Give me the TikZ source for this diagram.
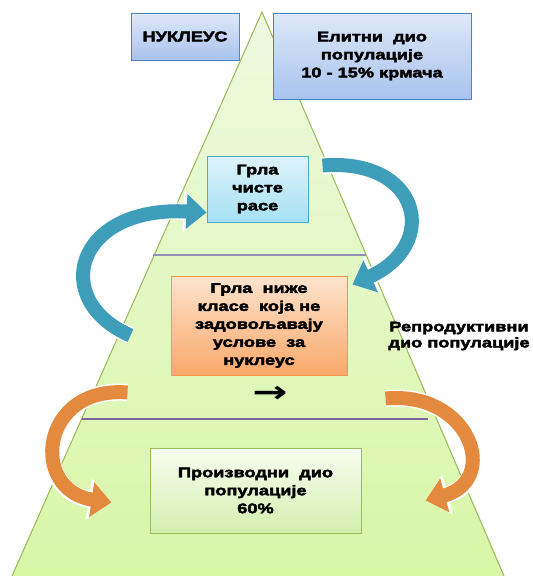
\documentclass[tikz,border=0pt]{standalone}
\usepackage{amsmath}
\usepackage{fontspec}
\newfontfamily\boxfont[FakeStretch=1.3,FakeBold=3]{Liberation Sans Bold}
\newfontfamily\arrowfont[FakeStretch=1.4]{DejaVu Sans Bold}
\usepackage{tikz}
\usetikzlibrary{arrows.meta,positioning}
\usepackage{xcolor}
\definecolor{pyrline}{HTML}{9BBB59}
\definecolor{pyrtop}{HTML}{EEF9E0}
\definecolor{pyrbot}{HTML}{D8F6A6}
\definecolor{nuclline}{HTML}{4F81BD}
\definecolor{nucltop}{HTML}{DFE8F8}
\definecolor{nuclbot}{HTML}{A8C3EE}
\definecolor{pureline}{HTML}{4BACC6}
\definecolor{puretop}{HTML}{DDF3FA}
\definecolor{purebot}{HTML}{A6E0F4}
\definecolor{lowline}{HTML}{F79646}
\definecolor{lowtop}{HTML}{FDE4CE}
\definecolor{lowbot}{HTML}{F9A86A}
\definecolor{prodtop}{HTML}{F8FDF0}
\definecolor{prodbot}{HTML}{D5EFAF}
\definecolor{divgray}{HTML}{958FB5}
\definecolor{divpurple}{HTML}{8064A2}
\definecolor{bandblue}{HTML}{3E9DB8}
\definecolor{bandorange}{HTML}{E48A3E}

\begin{document}
\begin{tikzpicture}[x=1pt, y=-1pt, font=\boxfont\fontsize{14}{18}\selectfont,
  box/.style={draw, line width=1pt, align=center, inner sep=0pt},
  band/.style={line width=14pt, -{Triangle[length=20pt, width=34pt]},
    preaction={draw=white, line width=17pt, -{Triangle[length=23pt, width=40pt]}}}]
\useasboundingbox (0,0) rectangle (533,576);
\coordinate (apex) at (262,12);
\coordinate (bl) at (12,576);
\coordinate (br) at (504,576);
\fill[top color=pyrtop, bottom color=pyrbot] (apex) -- (bl) -- (br) -- cycle;
\draw[pyrline, line width=1pt] (bl) -- (apex) -- (br);
\coordinate (d1l) at (153,255);
\coordinate (d1r) at (366,255);
\coordinate (d2l) at (82,419);
\coordinate (d2r) at (428,419);
\draw[divgray, line width=1.5pt] (d1l) -- (d1r);
\draw[divpurple, line width=2.5pt] (d2l) -- (d2r);

\node (nucleus) [box, draw=nuclline, top color=nucltop, bottom color=nuclbot,
  minimum width=108pt, minimum height=47pt] at (185,36.5) {НУКЛЕУС};
\node (elite) [box, draw=nuclline, top color=nucltop, bottom color=nuclbot,
  minimum width=198pt, minimum height=86pt] at (372,56)
  {Елитни\ \ дио\\популације\\10 - 15\% крмача};
\node (pure) [box, draw=pureline, top color=puretop, bottom color=purebot,
  minimum width=101pt, minimum height=66pt] at (257.5,189) {Грла\\чисте\\расе};
\node (low) [box, draw=lowline, top color=lowtop, bottom color=lowbot,
  minimum width=176pt, minimum height=99pt] at (259,325.5)
  {Грла\ \ ниже\\класе\ \ која не\\задовољавају\\услове\ \ за\\нуклеус};
\node (prod) [box, draw=pyrline, top color=prodtop, bottom color=prodbot,
  minimum width=211pt, minimum height=85pt] at (255.5,490.5)
  {Производни\ \ дио\\популације\\60\%};
\node (repro) [align=center, font=\boxfont\fontsize{14}{16}\selectfont] at (459,336)
  {Репродуктивни\\дио популације};
\node (arrowsym) [font=\arrowfont\fontsize{30}{30}\selectfont] at (270,394) {→};

\draw[band, bandblue] ([shift={(14,10)}]pure.north east)
  .. controls +(98,-8) and +(88,-40) .. ([shift={(5,9)}]low.north east);
\draw[band, bandblue] ([shift={(-40,10)}]low.west)
  .. controls +(-81,-35) and +(-132,-7) .. ([shift={(0,-10)}]pure.south west);
\draw[band, bandorange] ([shift={(-43,17)}]low.south west)
  .. controls +(-88,-7) and +(-82,-12) .. ([shift={(-38,12)}]prod.west);
\draw[band, bandorange] ([shift={(38,23)}]low.south east)
  .. controls +(85,-8) and +(75,-20) .. ([shift={(64,10)}]prod.east);
\end{tikzpicture}
\end{document}
